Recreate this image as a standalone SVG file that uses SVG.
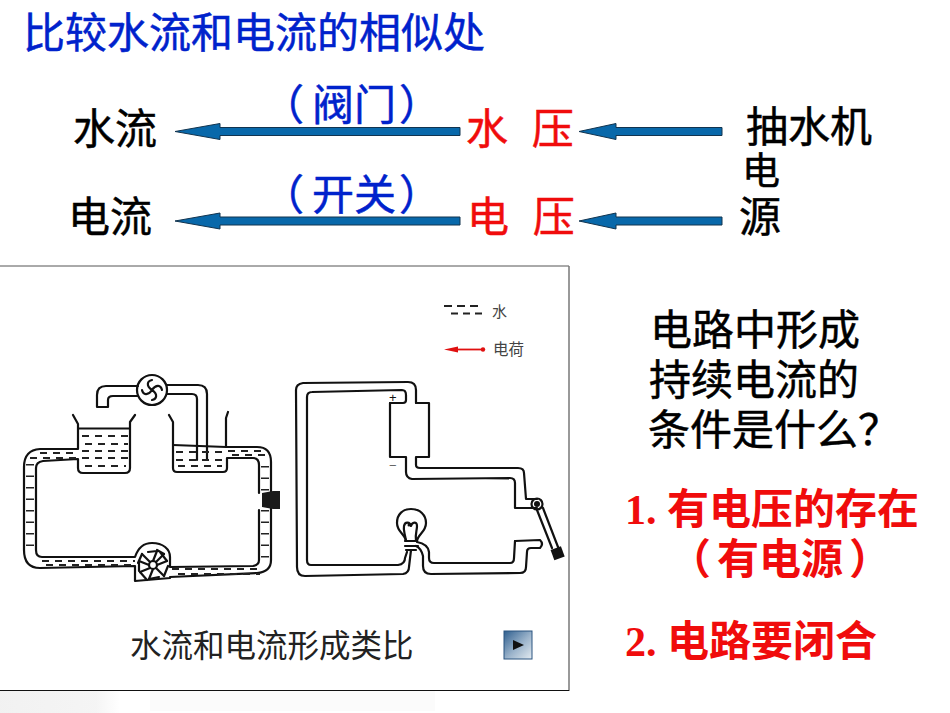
<svg xmlns="http://www.w3.org/2000/svg" width="950" height="713" viewBox="0 0 950 713">
<style>
text{font-family:"Liberation Sans","Noto Sans CJK SC",sans-serif}
.t{font-size:42px;fill:#000;stroke:#000;stroke-width:.5}
.b{font-size:42px;fill:#0022cc;stroke:#0022cc;stroke-width:.5}
.r{font-size:42px;fill:#f00c0c;stroke:#f00c0c;stroke-width:.5}
.rb{font-size:42px;fill:#f00c0c;font-weight:bold;font-family:"Liberation Serif","Noto Sans CJK SC",serif}
.a{fill:#0868aa;stroke:#12344f;stroke-width:1}
.l{fill:none;stroke:#111;stroke-width:2.200;stroke-linecap:round;stroke-linejoin:round}
.d{fill:none;stroke:#222;stroke-width:1.800;stroke-dasharray:7 6}
.v{fill:none;stroke:#222;stroke-width:8;stroke-dasharray:1.500 10}
</style>
<defs>
<linearGradient id="btn" x1="0" y1="0" x2="1" y2="1"><stop offset="0" stop-color="#2f5f8f"/><stop offset=".55" stop-color="#9db5cc"/><stop offset="1" stop-color="#e4ebf1"/></linearGradient>
<linearGradient id="sh2" x1="0" y1="0" x2="1" y2="0"><stop offset="0" stop-color="#eee"/><stop offset=".8" stop-color="#f2f2f2"/><stop offset="1" stop-color="#fff"/></linearGradient>
</defs>
<rect width="950" height="713" fill="#fff"/>
<rect x="0" y="691" width="120" height="22" fill="url(#sh2)" opacity=".8"/>
<rect x="150" y="691" width="285" height="20" fill="#fbfbfb"/>

<g id="title"><text class="b" x="23" y="48">比较水流和电流的相似处</text></g>

<g id="connectors">
<polygon class="a" points="175,131.5 220,123.5 220,127.5 460,127.5 460,135.5 220,135.5 220,139.5"/>
<polygon class="a" points="579,131.5 616,123.5 616,127.5 722,127.5 722,135.5 616,135.5 616,139.5"/>
<polygon class="a" points="175,221 220,213 220,217 460,217 460,225 220,225 220,229"/>
<polygon class="a" points="579,221 616,213 616,217 722,217 722,225 616,225 616,229"/>
</g>

<g id="n-water"><text class="t" x="73" y="144">水流</text></g>
<g id="n-valve"><text class="b" x="262 312 354 399" y="120">（阀门）</text></g>
<g id="n-waterp"><text class="r" x="466" y="144" style="word-spacing:12px">水 压</text></g>
<g id="n-pump"><text class="t" x="746" y="142">抽水机</text></g>
<g id="n-current"><text class="t" x="68" y="232">电流</text></g>
<g id="n-switch"><text class="b" x="262 312 354 399" y="210">（开关）</text></g>
<g id="n-volt"><text class="r" x="467" y="232" style="word-spacing:12px">电 压</text></g>
<g id="n-source"><text class="t" x="742" y="184" style="font-size:38px">电</text><text class="t" x="739" y="232">源</text></g>

<g id="panel">
<rect x="-2" y="266" width="571" height="424" fill="#fff"/>
<path d="M0,266H569" stroke="#555" stroke-width="1" fill="none"/>
<path d="M569,266V691" stroke="#777" stroke-width="1.5" fill="none"/>
<path d="M0,690.5H569" stroke="#111" stroke-width="1.2" fill="none"/>
<text x="130" y="657" style="font-size:31.5px;fill:#222">水流和电流形成类比</text>
<rect x="504" y="631" width="28" height="28" fill="url(#btn)" stroke="#2a5580" stroke-width="1"/>
<polygon points="513,640 513,650 524,645" fill="#111"/>
</g>

<g id="legend">
<path d="M444,306H480" stroke="#222" stroke-width="2" stroke-dasharray="8 5" fill="none"/>
<path d="M451,313.5H486" stroke="#222" stroke-width="2" stroke-dasharray="7 5" fill="none"/>
<text x="492" y="317" style="font-size:15px;fill:#444">水</text>
<path d="M458,349.5H484" stroke="#e01010" stroke-width="1.800"/>
<polygon points="444,349.5 458,346.5 458,352.5" fill="#e01010"/>
<circle cx="483" cy="349.5" r="2.200" fill="#e01010"/>
<text x="493" y="355" style="font-size:15.5px;fill:#444">电荷</text>
</g>

<g id="water-circuit">
<path class="l" d="M73,415L78,424V449H40Q24,450 24,467V550Q24,568 40,568L135,566V581L170,578V577L257,573Q271,572 271,560V508"/>
<path class="l" d="M271,497V462Q271,447 257,447H226V418L228,412"/>
<path class="l" d="M135,415L130,422V468Q130,473 125,473H83Q78,473 78,468V459L43,461Q36,462 36,468V550Q36,557 42,557L135,557C138,548 144,543 152,543C163,543 170,549 170,557V567L253,566Q259,565 259,560V510"/>
<path class="l" d="M259,493V465Q259,458 253,458H227V468Q227,472 223,472H177Q173,472 173,468V422L169,415"/>
<path class="l" d="M78,428.500H130M173,445L226,447"/>
<path class="l" d="M97,407V395Q97,386 106,386H138M97,407H108V400Q108,396 113,396H138"/>
<path class="l" d="M167,385H198Q207,385 207,394V460M167,394H192Q197,394 197,399V460"/>
<circle class="l" cx="152" cy="390" r="15"/>
<path class="l" d="M152,390C146,386 147,381 152,380M152,390C156,384 161,385 162,390M152,390C158,394 157,399 152,400M152,390C148,396 143,395 142,390"/>
<circle class="l" cx="153" cy="565" r="4"/>
<path class="l" d="M157,565L167,561M156,568L164,576M153,569L149,579M150,568L140,572M149,565L139,561M150,562L142,554M153,561L157,551M156,562L164,554"/>
<path class="l" d="M167,561L160,552M164,576L168,566M149,579L159,577M140,572L147,580M139,561L139,571M142,554L138,563M157,551L148,552M164,554L157,550"/>
<polygon points="262,493 273,491 280,491 280,509 273,509 262,507" fill="#1a1a1a"/>
<path class="d" d="M82,436H128M85,444H128M82,451H128M82,458H128M85,466H126"/>
<path class="d" d="M176,452H224M176,460H224M178,466H222"/>
<path class="d" d="M40,453H76M30,458H78"/>
<path class="d" d="M42,561H135M46,565H135"/>
<path class="d" d="M172,569H258M178,574H260"/>
<path class="d" d="M228,451H262M232,455H268"/>
<path class="v" d="M30,464V552"/>
<path class="v" d="M265,466V495M265,510V558"/>
</g>

<g id="electric-circuit">
<path class="l" d="M416,403V390Q416,382 408,382L303,383Q296,384 296,390L297,567Q297,576 305,576L403,574Q409,573 409,567L411,550"/>
<path class="l" d="M390,403H403Q406,403 406,400V395Q406,390 402,390L312,392Q307,392 307,397V560Q307,565 311,565H398Q405,564 405,558L407,552"/>
<path class="l" d="M390,403V457H406V472Q406,478 412,479L510,478Q515,478 515,483V508H537"/>
<path class="l" d="M416,403H429V457H416V465Q416,468 420,468H518Q524,468 524,473L526,499H537"/>
<circle class="l" cx="537" cy="504" r="5.500"/>
<circle cx="537" cy="504" r="3" fill="#111"/>
<path class="l" d="M537,510L552,548M543,508L558,547"/>
<rect x="552" y="548" width="11" height="11" fill="#111" transform="rotate(-20 557 553)"/>
<path class="l" d="M515,541L540,540Q544,544 540,548H531Q527,548 527,552L526,567Q526,573 520,573L431,574Q423,574 423,566V556Q421,548 416,546"/>
<path class="l" d="M515,541L514,558Q514,563 510,563H434Q429,563 429,558V552Q428,544 417,542"/>
<path class="l" d="M406,541C405,534 397,532 397,523C397,514 403,509 411,509C420,509 426,515 426,523C426,532 418,534 417,541"/>
<path class="l" d="M405,541H417M405,546H418M406,550H416"/>
<path class="l" d="M406,541C405,533 403,531 404,526C405,521 410,522 411,526C412,522 417,521 417,526C417,531 415,533 416,541"/>
<circle cx="409" cy="525" r="1.500" fill="#111"/>
<text x="389" y="402" style="font-size:13px;fill:#111">+</text>
<text x="389" y="470" style="font-size:13px;fill:#666">−</text>
</g>

<g id="question">
<text class="t" x="650" y="345">电路中形成</text>
<text class="t" x="649" y="395">持续电流的</text>
<text class="t" x="648" y="445">条件是什么？</text>
</g>
<g id="answers">
<text class="rb" x="625" y="524">1. 有电压的存在</text>
<text class="rb" x="669 717 759 801 849" y="574">（有电源）</text>
<text class="rb" x="625" y="656">2. 电路要闭合</text>
</g>
</svg>
